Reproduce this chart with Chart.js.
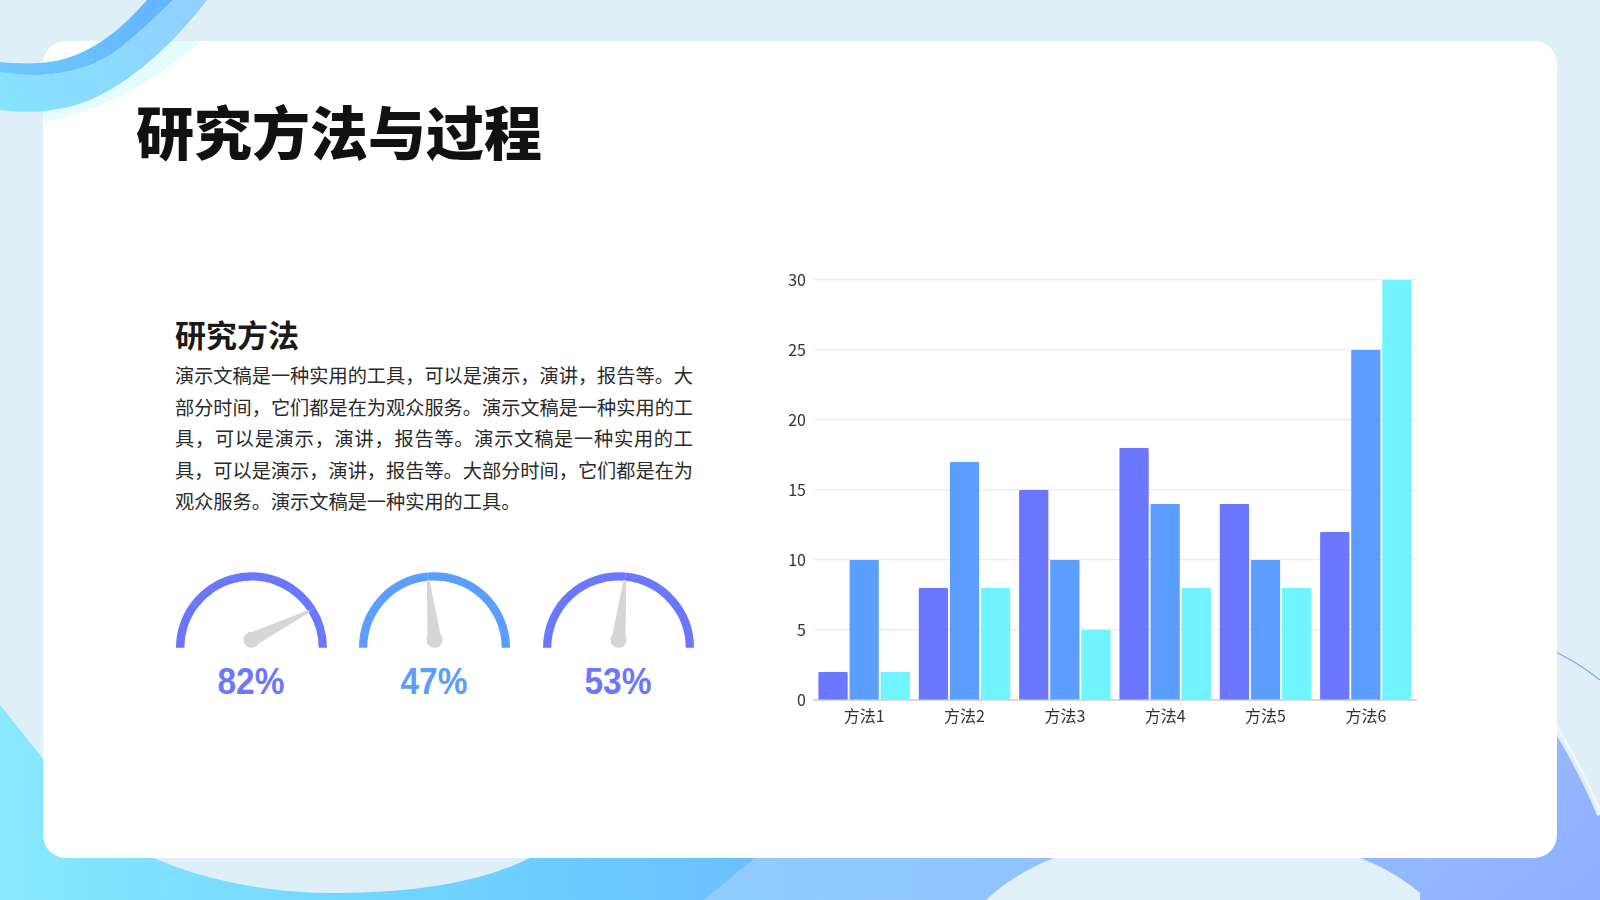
<!DOCTYPE html>
<html lang="zh-CN">
<head>
<meta charset="utf-8">
<title>研究方法与过程</title>
<script src="https://cdn.jsdelivr.net/npm/chart.js@4.4.1/dist/chart.umd.min.js"></script>
<style>
  html, body { margin: 0; padding: 0; }
  body {
    width: 1600px; height: 900px; overflow: hidden; position: relative;
    background: #deeff8;
    font-family: "Noto Sans CJK SC", "Noto Sans", sans-serif;
  }
  svg.layer { position: absolute; left: 0; top: 0; pointer-events: none; }
  .card {
    position: absolute; left: 43px; top: 41px; width: 1514px; height: 817px;
    background: #fff; border-radius: 23px;
  }
  h1 {
    position: absolute; left: 136px; top: 100px; margin: 0;
    font-size: 58px; line-height: 60px; font-weight: 900; color: #111;
  }
  h2 {
    position: absolute; left: 175px; top: 318px; margin: 0;
    font-size: 31px; line-height: 32px; font-weight: 700; color: #1a1a1a;
  }
  .desc {
    position: absolute; left: 175px; top: 360px; width: 518px;
    font-size: 19.2px; line-height: 31.6px; color: #2a2a2a;
  }
  .desc span { display: block; text-align: justify; text-align-last: justify; white-space: nowrap; }
  .desc span.last { text-align-last: left; }
  .gauge { position: absolute; width: 171px; height: 96px; }
  .pct {
    position: absolute; width: 120px; text-align: center;
    font-family: "Liberation Sans", Arial, sans-serif; font-weight: 700;
    font-size: 36px; line-height: 40px; transform: scaleX(0.93);
  }
  #barWrap { position: absolute; left: 740px; top: 250px; width: 700px; height: 500px; }
</style>
</head>
<body>

<!-- background shapes behind the card -->
<svg class="layer" width="1600" height="900" viewBox="0 0 1600 900">
  <defs>
    <linearGradient id="gLeft" x1="0" y1="0" x2="790" y2="0" gradientUnits="userSpaceOnUse">
      <stop offset="0" stop-color="#8ae8ff"/>
      <stop offset="0.5" stop-color="#6fd6ff"/>
      <stop offset="1" stop-color="#6cbdff"/>
    </linearGradient>
    <linearGradient id="gRight" x1="700" y1="0" x2="1600" y2="0" gradientUnits="userSpaceOnUse">
      <stop offset="0" stop-color="#8fcdff"/>
      <stop offset="1" stop-color="#93b3ff"/>
    </linearGradient>
    <linearGradient id="gPeri" x1="1420" y1="700" x2="1600" y2="900" gradientUnits="userSpaceOnUse">
      <stop offset="0" stop-color="#9cc0ff"/>
      <stop offset="1" stop-color="#8eafff"/>
    </linearGradient>
  </defs>
  <rect x="0" y="0" width="1600" height="900" fill="#deeff8"/>
  <path d="M0,0 L140,0 C80,45 30,45 0,33 Z" fill="#e6f3fa"/>
  <path d="M0,33 C30,45 80,45 140,0" fill="none" stroke="#b5dbee" stroke-width="1"/>
  <rect x="700" y="820" width="900" height="80" fill="url(#gRight)"/>
  <path d="M0,690 L0,900 L704,900 L800,820 L800,690 Z" fill="url(#gLeft)"/>
  <path d="M0,0 L0,705 L100,830 Q200,893 337,893 Q460,893 530,858 L700,700 L700,0 Z" fill="#deeff8"/>
  <ellipse cx="1207" cy="965" rx="252" ry="135" fill="#e0f1fa"/>
  <path d="M1500,650 C1555,715 1588,785 1600,815 L1600,900 L1420,900 L1420,650 Z" fill="url(#gPeri)"/>
  <path d="M1500,650 C1555,715 1588,785 1600,815" fill="none" stroke="#f2f8ff" stroke-width="6" opacity="0.8"/>
  <path d="M1540,645 C1565,655 1585,668 1600,680" fill="none" stroke="#7aa6ee" stroke-width="1.2"/>
</svg>

<div class="card"></div>

<!-- ribbon over the card corner -->
<svg class="layer" width="300" height="140" viewBox="0 0 300 140">
  <defs>
    <linearGradient id="gDark" x1="0" y1="70" x2="173" y2="0" gradientUnits="userSpaceOnUse">
      <stop offset="0" stop-color="#6fc8ff"/>
      <stop offset="1" stop-color="#62b4ff"/>
    </linearGradient>
    <linearGradient id="gLight" x1="0" y1="100" x2="207" y2="0" gradientUnits="userSpaceOnUse">
      <stop offset="0" stop-color="#86e3ff"/>
      <stop offset="1" stop-color="#92cfff"/>
    </linearGradient>
    <clipPath id="onCard"><rect x="43" y="41" width="260" height="100" rx="23"/></clipPath>
  </defs>
  <path clip-path="url(#onCard)" d="M207,0 C180,35 140,78 90,100 C60,112 30,114 0,110 L0,125 C80,128 170,80 245,0 Z" fill="#e6fbff"/>
  <path d="M173,0 C160,12 145,28 120,48 C90,72 45,80 0,72 L0,110 C30,114 60,112 90,100 C140,78 180,35 207,0 Z" fill="url(#gLight)"/>
  <path d="M147,0 C125,25 90,60 40,63 C25,64 10,63 0,62 L0,72 C45,80 90,72 120,48 C145,28 160,12 173,0 Z" fill="url(#gDark)"/>
</svg>

<h1>研究方法与过程</h1>
<h2>研究方法</h2>
<div class="desc">
  <span>演示文稿是一种实用的工具，可以是演示，演讲，报告等。大</span>
  <span>部分时间，它们都是在为观众服务。演示文稿是一种实用的工</span>
  <span>具，可以是演示，演讲，报告等。演示文稿是一种实用的工</span>
  <span>具，可以是演示，演讲，报告等。大部分时间，它们都是在为</span>
  <span class="last">观众服务。演示文稿是一种实用的工具。</span>
</div>

<div id="gauges"></div>

<div id="barWrap"><canvas id="barChart"></canvas></div>

<script>
/* ---- Data ---- */
const categories = ['方法1', '方法2', '方法3', '方法4', '方法5', '方法6'];
const seriesA = [2, 8, 15, 18, 14, 12];
const seriesB = [10, 17, 10, 14, 10, 25];
const seriesC = [2, 8, 5, 8, 8, 30];
const yMin = 0, yMax = 30, yStep = 5;

const gaugeValues = [82, 47, 53];

/* ---- Styles ---- */
const purple = '#6b77ff';
const blue = '#5b9eff';
const cyan = '#70f4ff';
const gaugeColors = [purple, blue, purple];
const gaugeCenters = [251, 434, 618];  // x of each dial centre
const gaugeBaseY = 648;

Chart.defaults.font.family = '"Noto Sans CJK SC", "Noto Sans", sans-serif';
Chart.defaults.animation = false;

/* ---- Gauges ---- */
const needlePlugin = {
  id: 'needle',
  afterDatasetsDraw(chart) {
    const arc = chart.getDatasetMeta(0).data[0];
    const { x, y, endAngle, innerRadius } = arc.getProps(['x', 'y', 'endAngle', 'innerRadius'], true);
    const ctx = chart.ctx;
    const knob = 8;
    const px = x, py = y - knob;
    const tx = x + Math.cos(endAngle) * (innerRadius + 1);
    const ty = y + Math.sin(endAngle) * (innerRadius + 1);
    const a = Math.atan2(ty - py, tx - px);
    const nx = Math.cos(a + Math.PI / 2), ny = Math.sin(a + Math.PI / 2);
    ctx.save();
    ctx.fillStyle = '#d6d6d6';
    ctx.beginPath();
    ctx.moveTo(px + nx * (knob - 1), py + ny * (knob - 1));
    ctx.lineTo(tx + nx * 1.3, ty + ny * 1.3);
    ctx.lineTo(tx - nx * 1.3, ty - ny * 1.3);
    ctx.lineTo(px - nx * (knob - 1), py - ny * (knob - 1));
    ctx.closePath();
    ctx.fill();
    ctx.beginPath();
    ctx.arc(px, py, knob, 0, Math.PI * 2);
    ctx.fill();
    ctx.restore();
  }
};

const gaugeHost = document.getElementById('gauges');
gaugeValues.forEach((v, i) => {
  const box = document.createElement('div');
  box.className = 'gauge';
  box.style.left = (gaugeCenters[i] - 85.5) + 'px';
  box.style.top = (gaugeBaseY - 83.75) + 'px';
  const cv = document.createElement('canvas');
  box.appendChild(cv);
  gaugeHost.appendChild(box);

  const label = document.createElement('div');
  label.className = 'pct';
  label.textContent = v + '%';
  label.style.color = gaugeColors[i];
  label.style.left = (gaugeCenters[i] - 60) + 'px';
  label.style.top = (gaugeBaseY + 14) + 'px';
  gaugeHost.appendChild(label);

  new Chart(cv, {
    type: 'doughnut',
    data: {
      labels: ['value', 'rest'],
      datasets: [{
        data: [v, 100 - v],
        backgroundColor: [gaugeColors[i], gaugeColors[i]],
        borderWidth: 0,
      }]
    },
    options: {
      responsive: true,
      maintainAspectRatio: false,
      rotation: -90,
      circumference: 180,
      cutout: '89%',
      events: [],
      layout: { padding: { left: 10, right: 10, top: 8, bottom: 12 } },
      plugins: { legend: { display: false }, tooltip: { enabled: false } }
    },
    plugins: [needlePlugin]
  });
});

/* ---- Bar chart ---- */
const tickFont = { family: '"Noto Sans CJK SC", "Noto Sans", sans-serif', size: 16 };

new Chart(document.getElementById('barChart'), {
  type: 'bar',
  data: {
    labels: categories,
    datasets: [
      { label: '系列1', data: seriesA, backgroundColor: purple },
      { label: '系列2', data: seriesB, backgroundColor: blue },
      { label: '系列3', data: seriesC, backgroundColor: cyan },
    ].map(d => Object.assign(d, {
      borderWidth: 0,
      borderRadius: 1,
      barPercentage: 0.94,
      categoryPercentage: 0.93,
    }))
  },
  options: {
    responsive: true,
    maintainAspectRatio: false,
    layout: { padding: { left: 0, right: 24, top: 30, bottom: 10 } },
    plugins: { legend: { display: false }, tooltip: { enabled: false } },
    scales: {
      x: {
        grid: { display: false, drawTicks: false },
        border: { display: true, color: '#d8d8d8', width: 2 },
        ticks: { color: '#333', font: tickFont, padding: 6 },
        afterFit: s => { s.height = 40; }
      },
      y: {
        min: yMin,
        max: yMax,
        grid: { color: '#ebebeb', lineWidth: 1.2, drawTicks: false },
        border: { display: false },
        ticks: { stepSize: yStep, color: '#333', font: tickFont, padding: 8 },
        afterFit: s => { s.width = 74; }
      }
    }
  }
});
</script>
</body>
</html>
